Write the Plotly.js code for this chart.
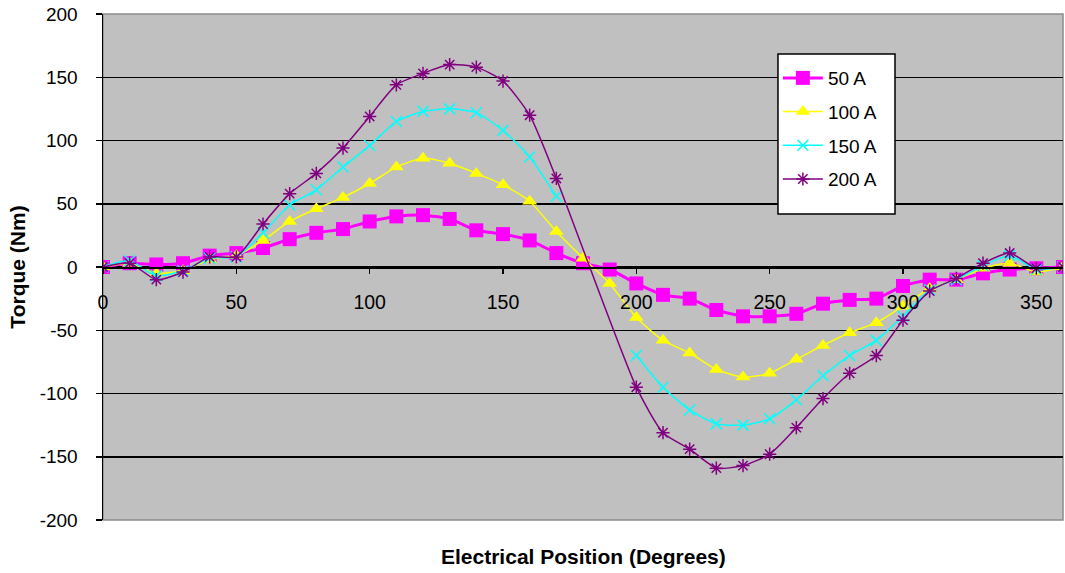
<!DOCTYPE html>
<html>
<head>
<meta charset="utf-8">
<script src="https://cdn.plot.ly/plotly-3.0.1.min.js"></script>
<style>html,body{margin:0;padding:0;background:#fff;}#chart{width:1065px;height:573px;}</style>
</head>
<body>
<div id="chart"></div>
<script>
// Electrical position (degrees)
const position = [0,10,20,30,40,50,60,70,80,90,100,110,120,130,140,150,160,170,180,190,200,210,220,230,240,250,260,270,280,290,300,310,320,330,340,350,360];

// Torque (Nm) per phase current
const torque50A  = [0,3,2,3,9,11,15,22,27,30,36,40,41,38,29,26,21,11,3,-2,-13,-22,-25,-34,-39,-39,-37,-29,-26,-25,-15,-10,-10,-5,-2,-1,0];
const torque100A = [0,3,-5,-3,6,9,21,36,46,55,66,79,86,82,74,65,52,28,7,-13,-40,-58,-68,-81,-87,-84,-73,-62,-52,-44,-31,-17,-10,-1,3,-4,0];
const torque150A = [0,5,-7,-3,7,8,27,49,61,79,96,115,123,125,122,108,87,56,null,null,-70,-95,-113,-124,-125,-120,-105,-86,-70,-58,-39,-18,-10,1,9,-2,0];
const torque200A = [0,3,-10,-4,8,8,34,58,74,94,119,144,153,160,158,147,120,70,null,null,-95,-131,-144,-159,-157,-148,-127,-104,-84,-70,-42,-19,-9,3,11,-1,0];

const seriesNames = ['50 A','100 A','150 A','200 A'];

// Tick labels
const xTickVals = [0,50,100,150,200,250,300,350];
const xTickText = ['0','50','100','150','200','250','300','350'];
const yTickVals = [-200,-150,-100,-50,0,50,100,150,200];
const yTickText = ['-200','-150','-100','-50','0','50','100','150','200'];

const xTitle = 'Electrical Position (Degrees)';
const yTitle = 'Torque (Nm)';

const font = 'Liberation Sans, Arial, sans-serif';

const traces = [
  {x: position, y: torque50A, name: seriesNames[0], type: 'scatter', mode: 'lines+markers',
   line: {color: '#FF00FF', width: 3, shape: 'spline', smoothing: 0.6},
   marker: {symbol: 'square', size: 14, color: '#FF00FF'}, legendgroup: 'a'},
  {x: position, y: torque100A, name: seriesNames[1], type: 'scatter', mode: 'lines+markers',
   line: {color: '#FFFF00', width: 1.5, shape: 'spline', smoothing: 0.6},
   marker: {symbol: 'triangle-up', size: 13, color: '#FFFF00'}, legendgroup: 'b'},
  {x: position, y: torque150A, name: seriesNames[2], type: 'scatter', mode: 'lines+markers',
   connectgaps: false,
   line: {color: '#00FFFF', width: 1.5, shape: 'spline', smoothing: 0.6},
   marker: {symbol: 'x-thin-open', size: 11, color: '#00FFFF', line: {color: '#00FFFF', width: 1.5}}, legendgroup: 'c'},
  {x: position, y: torque200A, name: seriesNames[3], type: 'scatter', mode: 'lines+markers',
   connectgaps: true,
   line: {color: '#800080', width: 1.5, shape: 'spline', smoothing: 0.6},
   marker: {symbol: 'asterisk-open', size: 11, color: '#800080', line: {color: '#800080', width: 1.5}}, legendgroup: 'd'}
];

const layout = {
  width: 1065, height: 573,
  margin: {l: 103, r: 2, t: 14, b: 53, pad: 0},
  paper_bgcolor: '#FFFFFF',
  plot_bgcolor: '#C0C0C0',
  font: {family: font, size: 19, color: '#000'},
  showlegend: true,
  legend: {
    x: 0.703, y: 0.911, xanchor: 'left', yanchor: 'top',
    bgcolor: 'rgba(0,0,0,0)', borderwidth: 0,
    font: {family: font, size: 19, color: '#000'},
    itemwidth: 40, tracegroupgap: 6, traceorder: 'grouped'
  },
  xaxis: {
    range: [0, 360],
    tickmode: 'array', tickvals: xTickVals, ticktext: xTickText,
    anchor: 'free', position: 0.5,
    showline: true, linecolor: '#000', linewidth: 1.5,
    ticks: 'outside', ticklen: 5, tickcolor: '#000', tickwidth: 1.5,
    ticklabelstandoff: 12,
    showgrid: false, zeroline: false,
    tickfont: {family: font, size: 19.5, color: '#000'}
  },
  yaxis: {
    range: [-200, 200],
    tickmode: 'array', tickvals: yTickVals, ticktext: yTickText,
    showline: true, linecolor: '#000', linewidth: 1.5,
    ticks: 'outside', ticklen: 6, tickcolor: '#000', tickwidth: 1.5,
    ticklabelstandoff: 14,
    showgrid: true, gridcolor: '#000', gridwidth: 1.5,
    zeroline: false,
    tickfont: {family: font, size: 19, color: '#000'},
    title: {text: yTitle, font: {family: font, size: 21, color: '#000', weight: 'bold'}, standoff: 8}
  },
  annotations: [
    {text: xTitle, xref: 'paper', yref: 'paper', x: 0.5, y: -0.073,
     xanchor: 'center', yanchor: 'middle', showarrow: false,
     font: {family: font, size: 21, color: '#000', weight: 'bold'}}
  ],
  shapes: [
    {type: 'rect', xref: 'paper', yref: 'paper', x0: 0, x1: 1, y0: 0, y1: 1,
     line: {color: '#8C8C8C', width: 1.5}, layer: 'below'},
    {type: 'rect', xref: 'paper', yref: 'paper', x0: 0.7031, x1: 0.825, y0: 0.6047, y1: 0.921,
     fillcolor: '#FFFFFF', line: {color: '#000000', width: 1.5}, layer: 'above'}
  ]
};

Plotly.newPlot('chart', traces, layout, {staticPlot: true, displayModeBar: false});
</script>
</body>
</html>
